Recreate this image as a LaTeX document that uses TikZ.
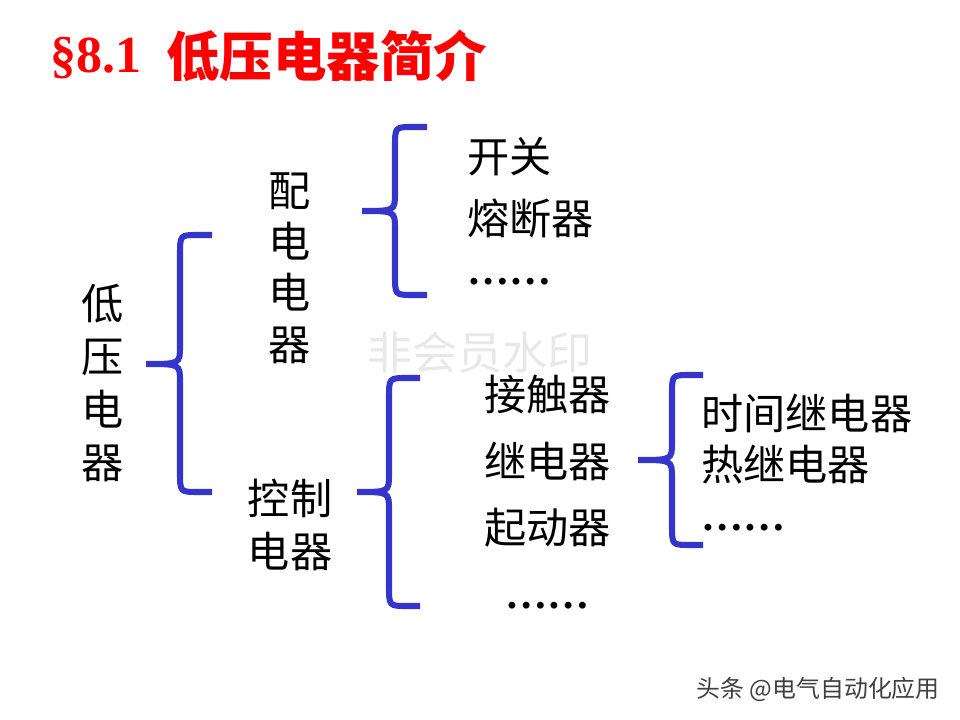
\documentclass[tikz,border=0pt]{standalone}
\usepackage{fontspec}
\setmainfont{Liberation Serif}
\newfontfamily\cjk{Noto Sans CJK SC}
\definecolor{bracecol}{RGB}{53,53,204}
\definecolor{wmgray}{RGB}{232,232,232}
% curly brace: end x, spine x, tip x, top y, tip y, bottom y
\newcommand{\curlyb}[6]{%
  \draw[brc] (#1,#4) -- (#2+18,#4) .. controls (#2,#4) .. (#2,#4+20)
    -- (#2,#5-18) .. controls (#2,#5) .. (#3,#5)
    .. controls (#2,#5) .. (#2,#5+18)
    -- (#2,#6-20) .. controls (#2,#6) .. (#2+18,#6) -- (#1,#6);}

\begin{document}
\begin{tikzpicture}[x=0.025cm,y=-0.025cm,
  brc/.style={draw=bracecol,line width=4.3pt},
  item/.style={anchor=west,inner sep=0pt,font=\cjk\fontsize{30}{36}\selectfont},
  vert/.style={align=center,inner sep=0pt},
  more/.style={anchor=west,inner sep=0pt,font=\bfseries\fontsize{30}{36}\selectfont}]
\useasboundingbox (0,0) rectangle (960,720);
% ---------- watermarks ----------
\node[text=wmgray,font=\cjk\fontsize{32}{36}\selectfont] (wm) at (480,352) {非会员水印};
\node[anchor=east,inner sep=0pt,text=black!75,font=\cjk\fontsize{17}{20}\selectfont] (src) at (940,689) {头条 @电气自动化应用};
% ---------- title ----------
\node[anchor=base west,inner sep=0pt,text=red,font=\bfseries\fontsize{37}{44}\selectfont] (secnum) at (50,73) {\S8.1};
\node[anchor=west,inner sep=0pt,text=red,font=\cjk\bfseries\fontsize{38}{44}\selectfont] (title) at (166,56) {低压电器简介};
% ---------- level 1 ----------
\node[vert,font=\cjk\fontsize{30}{37.5}\selectfont] (lv) at (103,383) {低\\压\\电\\器};
\curlyb{212}{180}{146}{235}{364}{492}
% ---------- level 2 ----------
\node[vert,font=\cjk\fontsize{30}{36.5}\selectfont] (pd) at (290,268) {配\\电\\电\\器};
\node[vert,font=\cjk\fontsize{30}{37.5}\selectfont] (kz) at (290,525) {控制\\电器};
\curlyb{427}{395}{362}{127}{211}{295}
\curlyb{420}{389}{357}{378}{492}{606}
% ---------- level 3 ----------
\node[item] (kg)  at (467,157) {开关};
\node[item] (rdq) at (467,218) {熔断器};
\node[more] (pd-more) at (467,282) {……};
\node[item] (jcq) at (484,394) {接触器};
\node[item] (jdq) at (484,461) {继电器};
\node[item] (qdq) at (484,528) {起动器};
\node[more] (kz-more) at (505,606) {……};
\curlyb{703}{672}{638}{375}{460}{545}
% ---------- level 4 ----------
\node[item] (sj) at (701,413) {时间继电器};
\node[item] (rj) at (701,465) {热继电器};
\node[more] (jdq-more) at (701,528) {……};
\end{tikzpicture}
\end{document}
